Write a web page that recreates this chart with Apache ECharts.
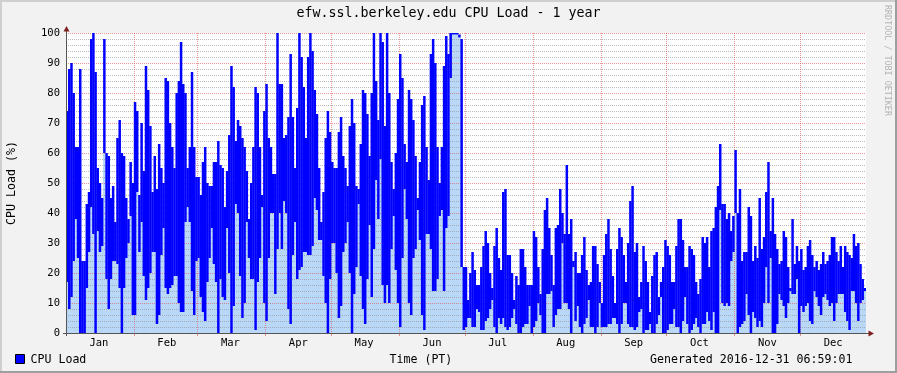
<!DOCTYPE html>
<html>
<head>
<meta charset="utf-8">
<script src="https://cdn.jsdelivr.net/npm/echarts@6/dist/echarts.min.js"></script>
<style>
html, body { margin: 0; padding: 0; background: #F2F2F2; }
#chart { width: 897px; height: 373px; }
</style>
</head>
<body>
<div id="chart"></div>
<script>
// ---- labels / texts ----
const monthLabels = ['Jan', 'Feb', 'Mar', 'Apr', 'May', 'Jun', 'Jul', 'Aug', 'Sep', 'Oct', 'Nov', 'Dec'];
const yTickLabels = [0, 10, 20, 30, 40, 50, 60, 70, 80, 90, 100];
const chartTitle = 'efw.ssl.berkeley.edu CPU Load - 1 year';
const yAxisTitle = 'CPU Load (%)';
const xAxisTitle = 'Time (PT)';
const legendLabel = 'CPU Load';
const generatedText = 'Generated 2016-12-31 06:59:01';
const watermarkText = 'RRDTOOL / TOBI OETIKER';

// ---- daily CPU load (%) per month: [max, min] ----
const jan = [[74,17],[88,8],[90,12],[80,24],[62,38],[62,25],[88,0],[24,0],[24,0],[43,15],[47,27],[98,42],[100,33],[87,0],[55,34],[50,27],[45,29],[98,60],[60,18],[59,8],[45,18],[49,24],[37,24],[65,23],[71,15],[60,0],[59,15],[45,25],[38,30],[57,39],[50,6]];
const feb = [[77,6],[74,47],[46,27],[70,37],[54,19],[89,11],[81,15],[69,20],[47,27],[59,27],[48,3],[63,6],[55,26],[50,35],[85,15],[84,13],[70,15],[62,16],[55,19],[80,19],[84,10],[97,7],[83,7],[80,37],[55,42],[62,37],[87,14],[62,6],[52,24]];
const mar = [[52,25],[46,12],[57,7],[62,4],[50,17],[49,25],[49,35],[57,23],[57,17],[64,0],[56,18],[55,12],[42,11],[54,35],[66,20],[89,0],[82,9],[64,43],[71,40],[69,19],[65,5],[62,10],[54,37],[38,25],[50,18],[62,18],[82,1],[80,17],[62,25],[46,42],[74,10]];
const apr = [[83,4],[65,25],[62,40],[53,40],[53,13],[100,28],[83,40],[83,28],[65,44],[66,40],[72,8],[93,3],[72,26],[55,37],[75,18],[100,21],[92,22],[82,27],[65,27],[92,26],[100,26],[94,29],[81,45],[73,41],[55,31],[37,31],[47,19],[65,10],[74,0],[67,18]];
const may = [[57,30],[55,30],[55,20],[67,5],[72,9],[59,27],[55,30],[49,37],[69,20],[78,0],[70,13],[49,22],[48,43],[63,19],[81,8],[80,3],[73,18],[59,36],[80,12],[100,28],[84,51],[71,38],[100,58],[97,16],[69,10],[100,16],[80,10],[57,28],[48,39],[60,21],[78,10]];
const jun = [[93,2],[85,25],[63,48],[57,38],[81,10],[78,6],[71,25],[59,28],[45,41],[57,31],[76,6],[79,1],[62,33],[51,33],[93,28],[98,14],[90,14],[62,18],[50,39],[62,41],[89,14],[99,35],[93,39],[100,85],[100,99.5],[100,99.5],[100,99.5],[99.5,98.5],[98,22],[22,1]];
const jul = [[22,2],[11,5],[20,5],[27,2],[21,2],[16,8],[16,7],[22,1],[29,1],[34,4],[30,5],[20,8],[15,11],[29,2],[35,0],[25,5],[21,3],[47,5],[48,2],[26,1],[26,2],[20,5],[11,8],[19,3],[16,0],[28,0],[28,2],[22,3],[16,3],[16,9],[16,0]];
const aug = [[34,2],[32,4],[22,10],[13,6],[28,0],[41,0],[45,13],[35,13],[26,14],[16,2],[35,6],[36,8],[48,8],[40,30],[33,10],[56,10],[33,8],[38,0],[24,22],[27,4],[20,9],[20,2],[26,0],[32,3],[21,5],[16,11],[17,2],[29,2],[29,0],[23,2],[17,10]];
const sep = [[10,2],[26,2],[33,2],[38,3],[28,3],[19,5],[10,5],[28,3],[35,0],[32,3],[26,10],[17,10],[30,3],[44,2],[49,2],[27,1],[30,2],[12,7],[17,8],[29,0],[24,1],[17,1],[7,3],[19,0],[26,0],[27,3],[12,6],[17,12],[22,0],[31,0]];
const oct = [[29,1],[26,3],[17,3],[17,8],[29,2],[38,2],[38,0],[31,4],[22,12],[22,3],[29,0],[28,1],[26,3],[17,5],[13,2],[18,0],[32,3],[30,3],[32,7],[22,4],[34,1],[35,7],[42,0],[49,0],[63,41],[43,10],[43,9],[38,10],[40,9],[34,24],[39,27]];
const nov = [[61,40],[40,0],[48,2],[24,3],[27,4],[27,13],[42,6],[39,0],[24,7],[29,5],[25,2],[45,4],[28,2],[32,10],[47,22],[57,10],[34,25],[45,0],[33,0],[28,3],[23,13],[24,11],[34,9],[32,5],[22,10],[15,14],[38,13],[23,13],[29,18],[24,0]];
const dec = [[28,9],[21,7],[22,9],[29,10],[31,4],[26,3],[22,14],[24,12],[21,9],[23,6],[27,12],[23,13],[24,11],[26,9],[32,10],[32,4],[27,10],[24,13],[29,13],[22,13],[29,7],[27,4],[26,1],[25,14],[33,14],[29,10],[30,4],[23,10],[18,11],[15,14]];

// ---- build ----
const dailyRanges = [].concat(jan, feb, mar, apr, may, jun, jul, aug, sep, oct, nov, dec);
// day boundaries (midnight) : one more than the number of days
const dayBoundaries = [];
for (let i = 0; i <= dailyRanges.length; i++) {
  dayBoundaries.push(new Date(Date.UTC(2016, 0, 1 + i)).toISOString().slice(0, 10));
}
const seriesData = dailyRanges.map((r, i) => [i, r[0], r[1]]);

const FONT = "'DejaVu Sans Mono', monospace";
const MAJOR = 'rgba(222,79,79,0.6)';
const MINOR = 'rgba(143,143,143,0.6)';
const AREA_COLOR = '#B9D7F7';
const LINE_COLOR = '#0000FF';

function isMonthStart(idx, val) { return idx > 0 && val.slice(8, 10) === '01'; }
function isMidMonth(idx, val) { return val.slice(8, 10) === '16'; }

function renderArea(params, api) {
  const i = api.value(0), lo = api.value(2);
  const p0 = api.coord([i, 0]);
  const p1 = api.coord([i + 1, lo]);
  const h = p0[1] - p1[1];
  if (h <= 0) return null;
  return {
    type: 'rect',
    shape: { x: p0[0] - 0.25, y: p1[1], width: p1[0] - p0[0] + 0.5, height: h },
    style: { fill: AREA_COLOR }
  };
}

function renderRange(params, api) {
  const i = api.value(0), hi = api.value(1), lo = api.value(2);
  const pHi = api.coord([i, hi]);
  const pLo = api.coord([i + 1, lo]);
  const w = pLo[0] - pHi[0];
  let y = pHi[1], h = pLo[1] - pHi[1];
  if (h < 1.5) { y -= (1.5 - h) / 2; h = 1.5; }
  return {
    type: 'rect',
    shape: { x: pHi[0] - 0.15, y: y, width: w + 0.3, height: h },
    style: { fill: LINE_COLOR }
  };
}

const chart = echarts.init(document.getElementById('chart'), null, { renderer: 'canvas' });
chart.setOption({
  animation: false,
  backgroundColor: '#F2F2F2',
  grid: {
    left: 66, right: 31, top: 33, bottom: 40,
    show: true, backgroundColor: '#FFFFFF', borderWidth: 0,
    containLabel: false, outerBoundsMode: 'none'
  },
  xAxis: {
    type: 'category',
    data: dayBoundaries,
    boundaryGap: false,
    z: 2,
    axisLine: { show: false },
    axisTick: { show: true, interval: isMonthStart, length: 3, lineStyle: { color: MAJOR, width: 1 } },
    splitLine: { show: true, interval: isMonthStart, lineStyle: { color: MAJOR, width: 1, type: [1, 1] } },
    axisLabel: {
      show: true, interval: isMidMonth, margin: 5,
      formatter: (v) => monthLabels[parseInt(v.slice(5, 7), 10) - 1],
      color: '#000', fontFamily: FONT, fontSize: 10.5
    }
  },
  yAxis: {
    type: 'value',
    min: yTickLabels[0], max: yTickLabels[yTickLabels.length - 1], interval: 10,
    z: 2,
    axisLine: { show: false },
    axisTick: { show: false },
    axisLabel: { color: '#000', fontFamily: FONT, fontSize: 10.5, margin: 6 },
    splitLine: { show: true, lineStyle: { color: MAJOR, width: 1, type: [1, 1] } },
    minorTick: { show: false, splitNumber: 5 },
    minorSplitLine: { show: true, lineStyle: { color: MINOR, width: 1, type: [1, 1] } }
  },
  series: [
    {
      name: 'CPU Load area', type: 'custom', renderItem: renderArea,
      data: seriesData, encode: { x: 0, y: [1, 2] }, z: 1, clip: true, silent: true
    },
    {
      name: legendLabel, type: 'custom', renderItem: renderRange,
      data: seriesData, encode: { x: 0, y: [1, 2] }, z: 3, clip: true, silent: true
    }
  ],
  graphic: [
    // bevel frame
    { type: 'rect', shape: { x: 0, y: 0, width: 897, height: 2 }, style: { fill: '#CFCFCF' }, z: 100 },
    { type: 'rect', shape: { x: 0, y: 0, width: 2, height: 373 }, style: { fill: '#CFCFCF' }, z: 100 },
    { type: 'rect', shape: { x: 0, y: 371, width: 897, height: 2 }, style: { fill: '#9E9E9E' }, z: 100 },
    { type: 'rect', shape: { x: 895, y: 0, width: 2, height: 373 }, style: { fill: '#9E9E9E' }, z: 100 },
    // axes
    { type: 'line', shape: { x1: 66.5, y1: 30, x2: 66.5, y2: 336 }, style: { stroke: '#555', lineWidth: 1 }, z: 100 },
    { type: 'line', shape: { x1: 63, y1: 333.5, x2: 870, y2: 333.5 }, style: { stroke: '#555', lineWidth: 1 }, z: 100 },
    { type: 'polygon', shape: { points: [[63.5, 31.5], [69.5, 31.5], [66.5, 26]] }, style: { fill: '#801F1F' }, z: 101 },
    { type: 'polygon', shape: { points: [[868.5, 330.5], [868.5, 336.5], [874, 333.5]] }, style: { fill: '#801F1F' }, z: 101 },
    // texts
    { type: 'text', x: 448.5, y: 13.5, style: { text: chartTitle, fill: '#000', font: '13.3px ' + FONT, textAlign: 'center', textVerticalAlign: 'middle' }, z: 100 },
    { type: 'text', x: 11.5, y: 183, rotation: Math.PI / 2, style: { text: yAxisTitle, fill: '#000', font: '11.6px ' + FONT, textAlign: 'center', textVerticalAlign: 'middle' }, z: 100 },
    { type: 'rect', shape: { x: 15.5, y: 354.5, width: 9, height: 9 }, style: { fill: LINE_COLOR, stroke: '#000', lineWidth: 1 }, z: 100 },
    { type: 'text', x: 30.5, y: 359.5, style: { text: legendLabel, fill: '#000', font: '11.6px ' + FONT, textAlign: 'left', textVerticalAlign: 'middle' }, z: 100 },
    { type: 'text', x: 389.5, y: 359.5, style: { text: xAxisTitle, fill: '#000', font: '11.6px ' + FONT, textAlign: 'left', textVerticalAlign: 'middle' }, z: 100 },
    { type: 'text', x: 650, y: 359.5, style: { text: generatedText, fill: '#000', font: '11.6px ' + FONT, textAlign: 'left', textVerticalAlign: 'middle' }, z: 100 },
    { type: 'text', x: 887.5, y: 5, rotation: -Math.PI / 2, style: { text: watermarkText, fill: '#B4B4B4', font: '8.4px ' + FONT, textAlign: 'left', textVerticalAlign: 'middle' }, z: 100 }
  ]
});
</script>
</body>
</html>
